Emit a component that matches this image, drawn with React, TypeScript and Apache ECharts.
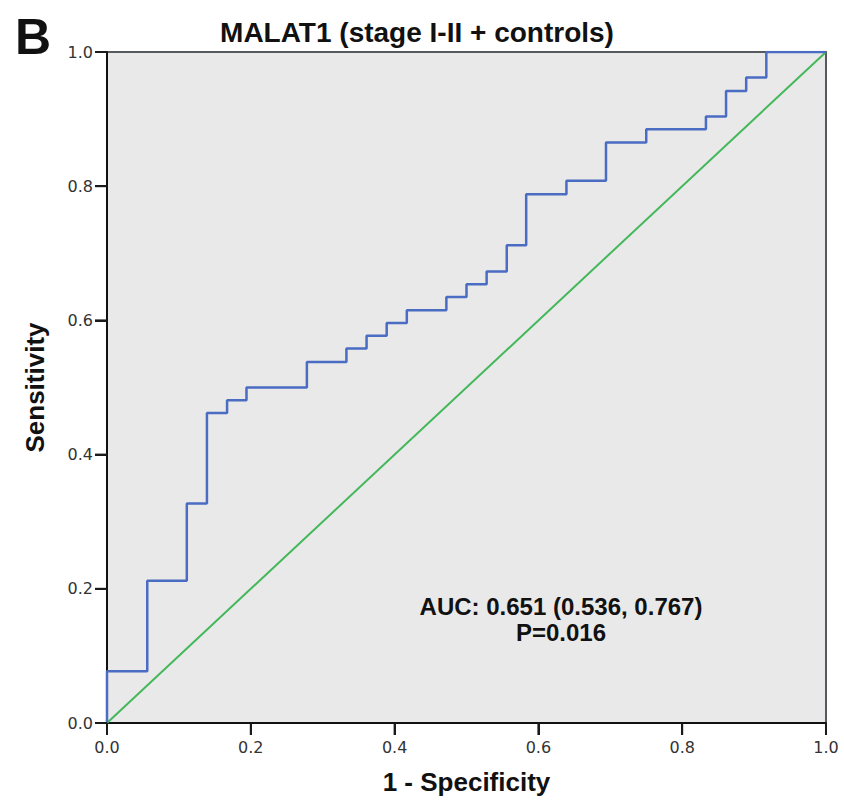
import React, { useEffect, useRef } from "react";
import * as echarts from "echarts";

// ROC curve vertices (1 - specificity, sensitivity)
const fpr = [0, 0, 0.056, 0.111, 0.139, 0.167, 0.194, 0.278, 0.333, 0.361, 0.389, 0.417, 0.472, 0.5, 0.528, 0.556, 0.583, 0.639, 0.694, 0.75, 0.833, 0.861, 0.889, 0.917, 1.0];
const tpr = [0, 0.077, 0.212, 0.327, 0.462, 0.481, 0.5, 0.538, 0.558, 0.577, 0.596, 0.615, 0.635, 0.654, 0.673, 0.712, 0.788, 0.808, 0.865, 0.885, 0.904, 0.942, 0.962, 1.0, 1.0];
// reference (chance) line
const refX = [0, 1];
const refY = [0, 1];
// tick values shared by both axes
const tickValues = [0, 0.2, 0.4, 0.6, 0.8, 1.0];

const panelLabel = "B";
const titleText = "MALAT1 (stage I-II + controls)";
const xName = "1 - Specificity";
const yName = "Sensitivity";
const aucText = "AUC: 0.651 (0.536, 0.767)";
const pText = "P=0.016";

const FONT = "'Liberation Sans', Arial, sans-serif";
const TICKFONT = "'DejaVu Sans', 'Liberation Sans', sans-serif";
const TICK_LEN = 12;

export default function App() {
  const ref = useRef<HTMLDivElement>(null);
  useEffect(() => {
    const chart = echarts.init(ref.current!, null, { renderer: "svg" });
    chart.setOption({
      animation: false,
      backgroundColor: "#ffffff",
      textStyle: { fontFamily: FONT },
      grid: {
        left: 107,
        right: 18,
        top: 52,
        bottom: 77,
        show: true,
        backgroundColor: "#e9e9e9",
        borderColor: "#565a5f",
        borderWidth: 2,
      },
      xAxis: {
        type: "value",
        min: 0,
        max: 1,
        interval: 0.2,
        name: xName,
        nameLocation: "middle",
        nameGap: 46,
        nameTextStyle: { fontFamily: FONT, fontSize: 26, fontWeight: "bold", color: "#111" },
        axisLine: { show: true, onZero: false, lineStyle: { color: "#111", width: 2 } },
        axisTick: { show: true, inside: false, length: TICK_LEN, lineStyle: { color: "#1a1a1a", width: 2 } },
        axisLabel: {
          margin: 16,
          fontFamily: TICKFONT,
          fontSize: 16,
          color: "#333",
          formatter: (v: number) => v.toFixed(1),
        },
        splitLine: { show: false },
      },
      yAxis: {
        type: "value",
        min: 0,
        max: 1,
        interval: 0.2,
        name: yName,
        nameLocation: "middle",
        nameGap: 59,
        nameTextStyle: { fontFamily: FONT, fontSize: 26, fontWeight: "bold", color: "#111" },
        axisLine: { show: true, onZero: false, lineStyle: { color: "#111", width: 2 } },
        axisTick: { show: true, inside: false, length: TICK_LEN, lineStyle: { color: "#1a1a1a", width: 2 } },
        axisLabel: {
          margin: 14,
          fontFamily: TICKFONT,
          fontSize: 16,
          color: "#333",
          formatter: (v: number) => v.toFixed(1),
        },
        splitLine: { show: false },
      },
      series: [
        {
          name: "Reference",
          type: "line",
          data: refX.map((x, i) => [x, refY[i]]),
          symbol: "none",
          lineStyle: { color: "#43b85a", width: 2 },
          z: 2,
        },
        {
          name: "MALAT1",
          type: "line",
          step: "end",
          data: fpr.map((x, i) => [x, tpr[i]]),
          symbol: "none",
          lineStyle: { color: "#4a6cc2", width: 2.5 },
          z: 3,
        },
      ],
      graphic: [
        {
          id: "panel",
          type: "text",
          left: 15,
          top: 12,
          style: { text: panelLabel, font: `bold 50px ${FONT}`, fill: "#111" },
        },
        {
          id: "title",
          type: "text",
          x: 417,
          y: 32,
          style: {
            text: titleText,
            font: `bold 28px ${FONT}`,
            fill: "#111",
            textAlign: "center",
            textVerticalAlign: "middle",
          },
        },
        {
          id: "auc",
          type: "text",
          x: 561,
          y: 606,
          z: 10,
          style: {
            text: aucText,
            font: `bold 24px ${FONT}`,
            fill: "#111",
            textAlign: "center",
            textVerticalAlign: "middle",
          },
        },
        {
          id: "pval",
          type: "text",
          x: 561,
          y: 632,
          z: 10,
          style: {
            text: pText,
            font: `bold 24px ${FONT}`,
            fill: "#111",
            textAlign: "center",
            textVerticalAlign: "middle",
          },
        },
      ],
    });

    // Outward tick marks placed through the axes' own scales
    const x0 = chart.convertToPixel({ xAxisIndex: 0 }, 0) as number;
    const y0 = chart.convertToPixel({ yAxisIndex: 0 }, 0) as number;
    const tickStyle = { stroke: "#1a1a1a", lineWidth: 2 };
    const ticks: any[] = [];
    tickValues.forEach((v, i) => {
      const px = chart.convertToPixel({ xAxisIndex: 0 }, v) as number;
      const py = chart.convertToPixel({ yAxisIndex: 0 }, v) as number;
      ticks.push({
        id: "xt" + i,
        type: "line",
        z: 20,
        shape: { x1: px, y1: y0, x2: px, y2: y0 + TICK_LEN },
        style: tickStyle,
      });
      ticks.push({
        id: "yt" + i,
        type: "line",
        z: 20,
        shape: { x1: x0 - TICK_LEN, y1: py, x2: x0, y2: py },
        style: tickStyle,
      });
    });
    chart.setOption({ graphic: ticks });

    return () => chart.dispose();
  }, []);
  return (
    <div
      ref={ref}
      style={{ position: "absolute", left: 0, top: 0, width: 844, height: 800, background: "#fff" }}
    />
  );
}
